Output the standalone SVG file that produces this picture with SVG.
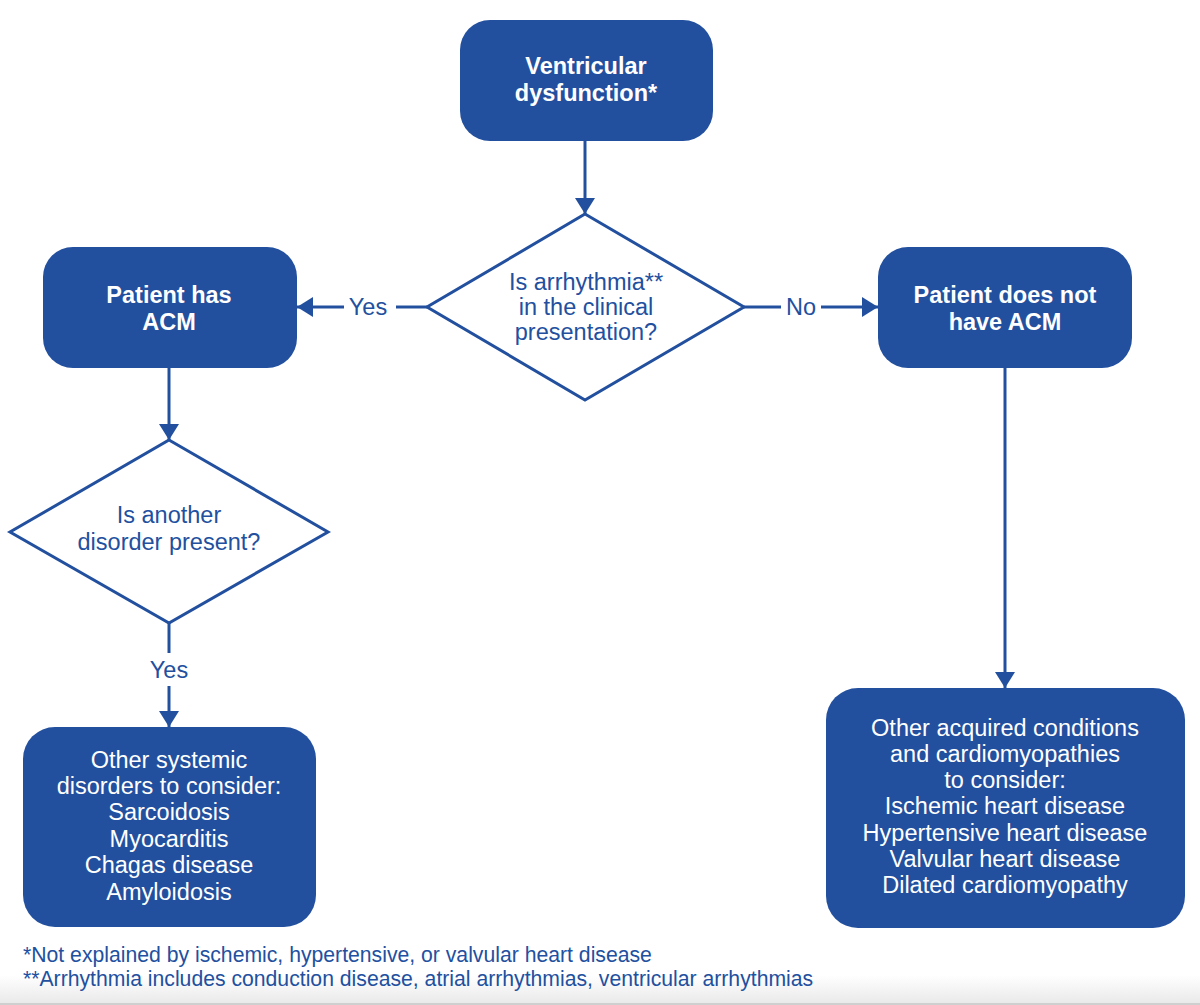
<svg xmlns="http://www.w3.org/2000/svg" width="1200" height="1005" viewBox="0 0 1200 1005">
<defs>
<style>
.box{fill:#22509f;}
.dia{fill:#ffffff;stroke:#22509f;stroke-width:3;}
.ln{stroke:#22509f;stroke-width:3;fill:none;}
.bt{font-family:"Liberation Sans",Arial,sans-serif;font-size:23.5px;font-weight:bold;fill:#ffffff;text-anchor:middle;}
.wt{font-family:"Liberation Sans",Arial,sans-serif;font-size:23.5px;fill:#ffffff;text-anchor:middle;}
.qt{font-family:"Liberation Sans",Arial,sans-serif;font-size:23.5px;fill:#22509f;text-anchor:middle;}
.fn{font-family:"Liberation Sans",Arial,sans-serif;font-size:21.2px;fill:#22509f;}
</style>
<marker id="arr" markerUnits="userSpaceOnUse" markerWidth="20" markerHeight="22" refX="16" refY="10" orient="auto">
<path d="M0,0 L16,10 L0,20 Z" fill="#22509f"/>
</marker>
<linearGradient id="bg" x1="0" y1="0" x2="0" y2="1">
<stop offset="0" stop-color="#ffffff"/>
<stop offset="1" stop-color="#e8e8e8"/>
</linearGradient>
</defs>
<rect x="0" y="0" width="1200" height="1005" fill="#ffffff"/>
<rect x="0" y="975" width="1200" height="30" fill="url(#bg)"/>
<line x1="0" y1="1004" x2="1200" y2="1004" stroke="#cfcfcf" stroke-width="2"/>

<g id="connectors">
<line class="ln" x1="585" y1="140" x2="585" y2="214" marker-end="url(#arr)"/>
<line class="ln" x1="427" y1="307" x2="396" y2="307"/>
<line class="ln" x1="344" y1="307" x2="297" y2="307" marker-end="url(#arr)"/>
<text class="qt" x="368" y="315">Yes</text>
<line class="ln" x1="744" y1="307" x2="781" y2="307"/>
<line class="ln" x1="821" y1="307" x2="878" y2="307" marker-end="url(#arr)"/>
<text class="qt" x="801" y="315">No</text>
<line class="ln" x1="169" y1="368" x2="169" y2="440" marker-end="url(#arr)"/>
<line class="ln" x1="169" y1="623" x2="169" y2="653"/>
<text class="qt" x="169" y="678">Yes</text>
<line class="ln" x1="169" y1="686" x2="169" y2="727" marker-end="url(#arr)"/>
<line class="ln" x1="1005" y1="368" x2="1005" y2="688" marker-end="url(#arr)"/>
</g>

<g id="node-ventricular">
<rect class="box" x="460" y="20" width="253" height="121" rx="30"/>
<text class="bt" x="586" y="74">Ventricular</text>
<text class="bt" x="586" y="101">dysfunction*</text>
</g>

<g id="node-arrhythmia">
<polygon class="dia" points="585,214 744,307 585,400 427,307"/>
<text class="qt" x="586" y="290">Is arrhythmia**</text>
<text class="qt" x="586" y="315">in the clinical</text>
<text class="qt" x="586" y="340">presentation?</text>
</g>

<g id="node-has-acm">
<rect class="box" x="43" y="247" width="254" height="121" rx="30"/>
<text class="bt" x="169" y="303">Patient has</text>
<text class="bt" x="169" y="330">ACM</text>
</g>

<g id="node-no-acm">
<rect class="box" x="878" y="247" width="254" height="121" rx="30"/>
<text class="bt" x="1005" y="303">Patient does not</text>
<text class="bt" x="1005" y="330">have ACM</text>
</g>

<g id="node-another-disorder">
<polygon class="dia" points="169,440 328,532 169,623 10,532"/>
<text class="qt" x="169" y="523">Is another</text>
<text class="qt" x="169" y="550">disorder present?</text>
</g>

<g id="node-systemic">
<rect class="box" x="23" y="727" width="293" height="200" rx="32"/>
<text class="wt" x="169" y="768">Other systemic</text>
<text class="wt" x="169" y="794">disorders to consider:</text>
<text class="wt" x="169" y="820">Sarcoidosis</text>
<text class="wt" x="169" y="847">Myocarditis</text>
<text class="wt" x="169" y="873">Chagas disease</text>
<text class="wt" x="169" y="900">Amyloidosis</text>
</g>

<g id="node-acquired">
<rect class="box" x="826" y="688" width="359" height="240" rx="32"/>
<text class="wt" x="1005" y="736">Other acquired conditions</text>
<text class="wt" x="1005" y="762">and cardiomyopathies</text>
<text class="wt" x="1005" y="788">to consider:</text>
<text class="wt" x="1005" y="814">Ischemic heart disease</text>
<text class="wt" x="1005" y="841">Hypertensive heart disease</text>
<text class="wt" x="1005" y="867">Valvular heart disease</text>
<text class="wt" x="1005" y="893">Dilated cardiomyopathy</text>
</g>

<g id="footnotes">
<text class="fn" x="23" y="962">*Not explained by ischemic, hypertensive, or valvular heart disease</text>
<text class="fn" x="23" y="986">**Arrhythmia includes conduction disease, atrial arrhythmias, ventricular arrhythmias</text>
</g>
</svg>
